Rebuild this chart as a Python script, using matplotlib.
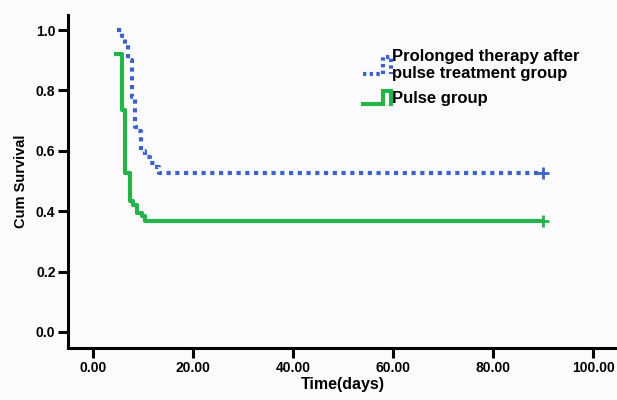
#Kaplan-Meier style survival curves
import matplotlib
matplotlib.use('Agg')
import matplotlib.pyplot as plt
from matplotlib.lines import Line2D
from matplotlib.legend_handler import HandlerBase
import numpy as np

plt.rc('font', family='Liberation Sans', weight='bold')

#Step data
t_prolonged = [4.8, 5.8, 6.4, 7.0, 7.8, 8.4, 9.0, 9.6, 10.4, 11.4, 12.4, 13.2, 90.0]
s_prolonged = [1.0, 0.98, 0.955, 0.90, 0.78, 0.68, 0.665, 0.60, 0.578, 0.56, 0.548, 0.526, 0.526]

t_pulse = [4.6, 5.8, 6.4, 7.4, 8.0, 8.8, 9.8, 10.4, 90.0]
s_pulse = [0.92, 0.735, 0.525, 0.435, 0.42, 0.395, 0.385, 0.367, 0.367]

x_ticks = [0, 20, 40, 60, 80, 100]
y_ticks = [0.0, 0.2, 0.4, 0.6, 0.8, 1.0]

labels = ['Prolonged therapy after\npulse treatment group', 'Pulse group']
c_blue = '#3d63c9'
c_green = '#25b34b'


class StepHandler(HandlerBase):
    #small step glyph like the SPSS legend
    def __init__(self, scale=1.0, dashes=None):
        super().__init__()
        self.scale = scale
        self.dashes = dashes

    def create_artists(self, legend, orig_handle, xdescent, ydescent,
                       width, height, fontsize, trans):
        h = height * self.scale
        xs = np.array([0.0, 0.68, 0.68, 0.95, 0.95]) * width - xdescent
        ys = np.array([0.0, 0.0, 1.0, 1.0, 0.0]) * h - ydescent + (height - h) / 2
        ls = self.dashes if self.dashes is not None else orig_handle.get_linestyle()
        ln = Line2D(xs, ys, color=orig_handle.get_color(), linestyle=ls,
                    linewidth=orig_handle.get_linewidth(),
                    solid_joinstyle='miter', transform=trans)
        return [ln]


fig = plt.figure(figsize=(6.17, 4.0), dpi=100)
fig.patch.set_facecolor('#fbfbfd')
ax = fig.add_axes([68/617, 52/400, 1 - 68/617, 333/400])
ax.set_facecolor('#fbfbfd')

l1, = ax.step(t_prolonged, s_prolonged, where='post', color=c_blue,
              linestyle=(0, (1, 1.1)), linewidth=3.0)
l2, = ax.step(t_pulse, s_pulse, where='post', color=c_green,
              linestyle='-', linewidth=3.0)
ax.plot(t_prolonged[-1], s_prolonged[-1], marker='+', color=c_blue,
        markersize=8, markeredgewidth=2)
ax.plot(t_pulse[-1], s_pulse[-1], marker='+', color=c_green,
        markersize=8, markeredgewidth=2)

ax.set_xlim(-5, 104.8)
ax.set_ylim(-0.053, 1.05)
ax.set_xticks(x_ticks)
ax.set_xticklabels(['%.2f' % v for v in x_ticks])
ax.set_yticks(y_ticks)
ax.set_yticklabels(['%.1f' % v for v in y_ticks])

for s in ['top', 'right']:
    ax.spines[s].set_visible(False)
for s in ['left', 'bottom']:
    ax.spines[s].set_linewidth(2.2)
ax.tick_params(direction='out', length=7, width=2.2, labelsize=10, pad=2)

ax.set_xlabel('Time(days)', fontsize=11.5, fontweight='bold', labelpad=2)
ax.set_ylabel('Cum Survival', fontsize=10.5, fontweight='bold', labelpad=6)

leg = ax.legend([l1, l2], labels, loc='upper left',
                bbox_to_anchor=(0.51, 0.942), frameon=False,
                handler_map={l1: StepHandler(1.45, (0, (0.8, 0.8))),
                             l2: StepHandler(1.1)},
                handlelength=1.75, handletextpad=0.0, labelspacing=0.62,
                prop={'size': 12, 'weight': 'bold'})
for t in leg.get_texts():
    t.set_linespacing(1.12)

fig.savefig('out.png', dpi=100, facecolor=fig.get_facecolor())
